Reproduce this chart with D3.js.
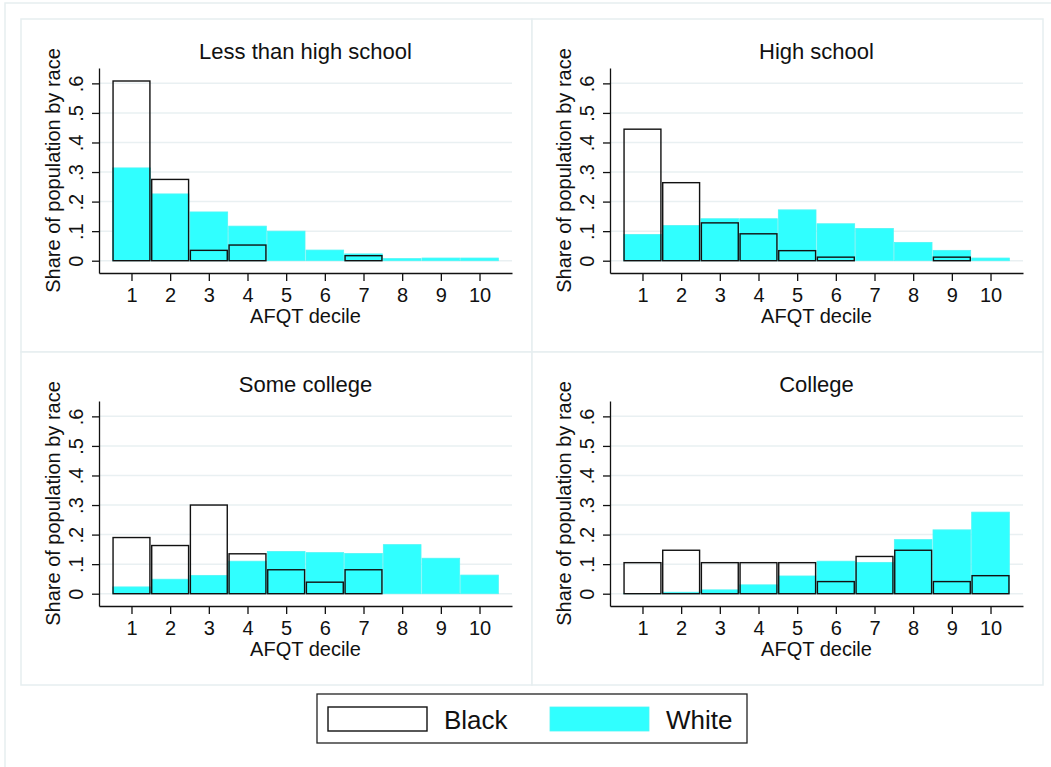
<!DOCTYPE html>
<html>
<head>
<meta charset="utf-8">
<script src="https://cdn.jsdelivr.net/npm/d3@7"></script>
<style>
  body { margin: 0; background: #fff; }
  svg { display: block; font-family: 'Liberation Sans', Arial, Helvetica, sans-serif; }
</style>
</head>
<body>
<svg id="chart"></svg>
<script>
const deciles = [1, 2, 3, 4, 5, 6, 7, 8, 9, 10]
const panelTitles = ['Less than high school', 'High school', 'Some college', 'College']
const yTicks = [0, 0.1, 0.2, 0.3, 0.4, 0.5, 0.6]
const yTickLabels = ['0', '.1', '.2', '.3', '.4', '.5', '.6']
const seriesNames = ['Black', 'White']

// share of population by race, one array per education group
const blackLessHS = [0.608, 0.275, 0.035, 0.053, 0, 0, 0.017, 0, 0, 0]
const whiteLessHS = [0.314, 0.226, 0.165, 0.117, 0.100, 0.036, 0.023, 0.007, 0.009, 0.009]
const blackHS = [0.445, 0.264, 0.128, 0.091, 0.034, 0.012, 0, 0, 0.012, 0]
const whiteHS = [0.089, 0.119, 0.142, 0.142, 0.172, 0.125, 0.109, 0.062, 0.035, 0.009]
const blackSomeCol = [0.190, 0.163, 0.300, 0.135, 0.081, 0.039, 0.081, 0, 0, 0]
const whiteSomeCol = [0.023, 0.049, 0.062, 0.110, 0.143, 0.139, 0.136, 0.166, 0.120, 0.063]
const blackCollege = [0.105, 0.147, 0.105, 0.105, 0.105, 0.041, 0.126, 0.147, 0.041, 0.061]
const whiteCollege = [0.001, 0.005, 0.013, 0.030, 0.060, 0.110, 0.106, 0.183, 0.216, 0.276]

const blackSeries = [blackLessHS, blackHS, blackSomeCol, blackCollege]
const whiteSeries = [whiteLessHS, whiteHS, whiteSomeCol, whiteCollege]

const width = 1051
const height = 767
const cyan = '#30ffff'
const frameColor = '#e6eef0'
const gridColor = '#e9f0f2'

const svg = d3.select('svg#chart')
  .attr('width', width)
  .attr('height', height)

svg.append('rect').attr('width', width).attr('height', height).attr('fill', '#fff')

// outer frame
svg.append('rect')
  .attr('x', 5).attr('y', 3)
  .attr('width', width + 10).attr('height', height + 10)
  .attr('fill', 'none')
  .attr('stroke', frameColor)
  .attr('stroke-width', 1.5)

const panelW = 511
const panelH = 333
const x0 = 21
const y0 = 19

// scales are in panel-local coordinates
const x = d3.scaleLinear().domain([0.16, 10.84]).range([78, 491])
const y = d3.scaleLinear().domain([-0.0416, 0.652]).range([254, 49])
const unit = x(1) - x(0)

panelTitles.forEach((title, i) => {
  const col = i % 2
  const row = Math.floor(i / 2)
  const g = svg.append('g')
    .attr('transform', `translate(${x0 + col * panelW},${y0 + row * panelH})`)

  g.append('rect')
    .attr('x', 0).attr('y', 0)
    .attr('width', panelW).attr('height', panelH)
    .attr('fill', '#fff')
    .attr('stroke', frameColor)
    .attr('stroke-width', 1.5)

  // gridlines
  g.append('g').selectAll('line')
    .data(yTicks)
    .enter().append('line')
    .attr('x1', x.range()[0]).attr('x2', x.range()[1])
    .attr('y1', d => y(d)).attr('y2', d => y(d))
    .attr('stroke', gridColor)
    .attr('stroke-width', 1.5)

  // white bars first, black outlines on top
  g.append('g').selectAll('rect')
    .data(deciles)
    .enter().append('rect')
    .attr('x', d => x(d - 0.5) + 0.5)
    .attr('y', (d, j) => y(whiteSeries[i][j]))
    .attr('width', unit - 1)
    .attr('height', (d, j) => y(0) - y(whiteSeries[i][j]))
    .attr('fill', cyan)
    .attr('stroke', '#4ff6f6')
    .attr('stroke-width', 0.8)

  g.append('g').selectAll('rect')
    .data(deciles.filter((d, j) => blackSeries[i][j] > 0))
    .enter().append('rect')
    .attr('x', d => x(d - 0.5) + 0.9)
    .attr('y', d => y(blackSeries[i][d - 1]))
    .attr('width', unit - 1.8)
    .attr('height', d => y(0) - y(blackSeries[i][d - 1]))
    .attr('fill', 'none')
    .attr('stroke', '#111')
    .attr('stroke-width', 1.4)

  // y axis
  const yAxis = g.append('g')
    .attr('transform', `translate(${x.range()[0]},0)`)
    .call(d3.axisLeft(y).tickValues(yTicks).tickSize(7).tickSizeOuter(0)
      .tickFormat((d, j) => yTickLabels[j]))
  yAxis.select('.domain').attr('stroke', '#111').attr('stroke-width', 1.3)
  yAxis.selectAll('.tick line').attr('stroke', '#111').attr('stroke-width', 1.3)
  yAxis.selectAll('.tick text')
    .attr('font-size', 20)
    .attr('fill', '#111')
    .attr('x', null).attr('dy', null)
    .attr('text-anchor', 'middle')
    .attr('transform', 'translate(-16,0) rotate(-90)')

  // x axis
  const xAxis = g.append('g')
    .attr('transform', `translate(0,${y.range()[0]})`)
    .call(d3.axisBottom(x).tickValues(deciles).tickSize(8).tickSizeOuter(0)
      .tickFormat(d3.format('d')))
  xAxis.select('.domain').attr('stroke', '#111').attr('stroke-width', 1.3)
  xAxis.selectAll('.tick line').attr('stroke', '#111').attr('stroke-width', 1.3)
  xAxis.selectAll('.tick text')
    .attr('font-size', 20)
    .attr('fill', '#111')
    .attr('y', 29).attr('dy', null)

  g.append('text')
    .attr('x', (x.range()[0] + x.range()[1]) / 2)
    .attr('y', 40)
    .attr('text-anchor', 'middle')
    .attr('font-size', 22)
    .attr('fill', '#111')
    .text(title)

  g.append('text')
    .attr('x', (x.range()[0] + x.range()[1]) / 2)
    .attr('y', 304)
    .attr('text-anchor', 'middle')
    .attr('font-size', 20)
    .attr('fill', '#111')
    .text('AFQT decile')

  g.append('text')
    .attr('transform', `translate(39,${(y.range()[0] + y.range()[1]) / 2}) rotate(-90)`)
    .attr('text-anchor', 'middle')
    .attr('font-size', 20)
    .attr('fill', '#111')
    .text('Share of population by race')
})

// legend
const legend = svg.append('g')
legend.append('rect')
  .attr('x', 317).attr('y', 694)
  .attr('width', 430).attr('height', 49)
  .attr('fill', '#fff')
  .attr('stroke', '#222')
  .attr('stroke-width', 1.3)

const keyX = [328, 550]
legend.selectAll('rect.key')
  .data(seriesNames)
  .enter().append('rect')
  .attr('class', 'key')
  .attr('x', (d, i) => keyX[i])
  .attr('y', 707)
  .attr('width', 99)
  .attr('height', 24)
  .attr('fill', (d, i) => i === 0 ? '#fff' : cyan)
  .attr('stroke', (d, i) => i === 0 ? '#111' : '#4ff6f6')
  .attr('stroke-width', (d, i) => i === 0 ? 1.4 : 0.8)

legend.selectAll('text')
  .data(seriesNames)
  .enter().append('text')
  .attr('x', (d, i) => keyX[i] + 116)
  .attr('y', 729)
  .attr('font-size', 26)
  .attr('fill', '#111')
  .text(d => d)
</script>
</body>
</html>
